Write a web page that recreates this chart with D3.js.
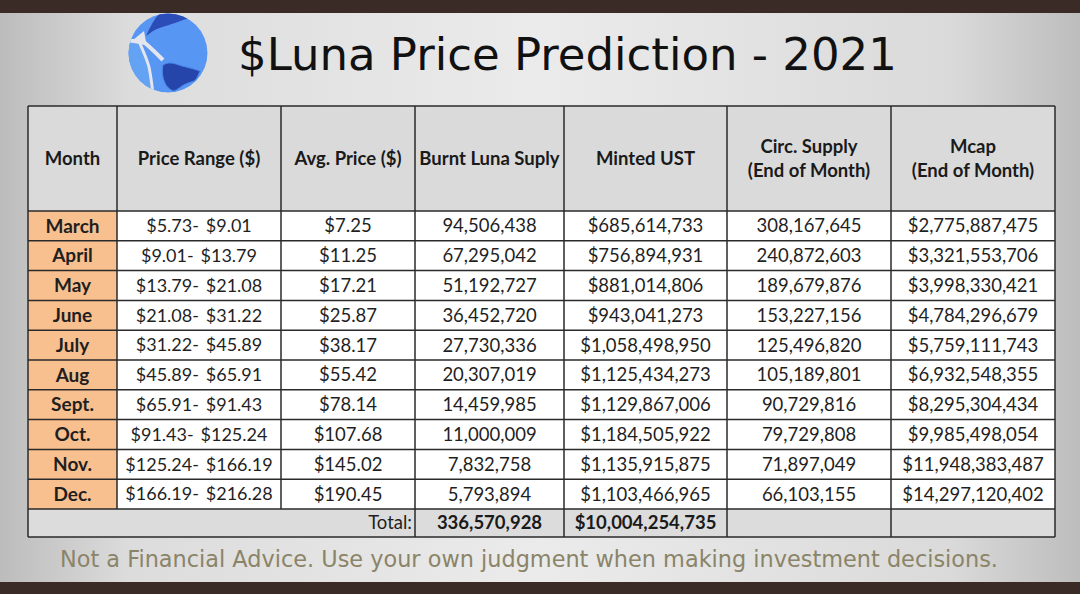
<!DOCTYPE html>
<html>
<head>
<meta charset="utf-8">
<script src="https://cdn.jsdelivr.net/npm/d3@7"></script>
<style>
  html, body { margin: 0; padding: 0; background: #d6d6d6; }
  svg { display: block; }
</style>
</head>
<body>
<div id="chart"></div>
<script>
// table content
const headers = [
    ['Month'],
    ['Price Range ($)'],
    ['Avg. Price ($)'],
    ['Burnt Luna Suply'],
    ['Minted UST'],
    ['Circ. Supply', '(End of Month)'],
    ['Mcap', '(End of Month)']
];
const months = ['March', 'April', 'May', 'June', 'July', 'Aug', 'Sept.', 'Oct.', 'Nov.', 'Dec.'];
const priceLow = ['5.73', '9.01', '13.79', '21.08', '31.22', '45.89', '65.91', '91.43', '125.24', '166.19'];
const priceHigh = ['9.01', '13.79', '21.08', '31.22', '45.89', '65.91', '91.43', '125.24', '166.19', '216.28'];
const avgPrice = ['7.25', '11.25', '17.21', '25.87', '38.17', '55.42', '78.14', '107.68', '145.02', '190.45'];
const burntLuna = [94506438, 67295042, 51192727, 36452720, 27730336, 20307019, 14459985, 11000009, 7832758, 5793894];
const mintedUST = [685614733, 756894931, 881014806, 943041273, 1058498950, 1125434273, 1129867006, 1184505922, 1135915875, 1103466965];
const circSupply = [308167645, 240872603, 189679876, 153227156, 125496820, 105189801, 90729816, 79729808, 71897049, 66103155];
const mcap = [2775887475, 3321553706, 3998330421, 4784296679, 5759111743, 6932548355, 8295304434, 9985498054, 11948383487, 14297120402];
const totalBurnt = 336570928;
const totalMinted = 10004254735;

const title = '$Luna Price Prediction - 2021';
const footnote = 'Not a Financial Advice. Use your own judgment when making investment decisions.';

// layout
const width = 1080;
const height = 594;
const colEdges = [28, 117, 281, 415, 564, 727, 891, 1055];
const tableTop = 106;
const headBottom = 211;
const bodyBottom = 509;
const tableBottom = 537;
const cellFont = 'Lato, "Liberation Sans", sans-serif';

const fmt = d3.format(',');

const svg = d3.select('#chart')
    .append('svg')
    .attr('width', width)
    .attr('height', height);

const defs = svg.append('defs');
const bg = defs.append('linearGradient').attr('id', 'bg').attr('x1', 0).attr('x2', 1).attr('y1', 0).attr('y2', 0);
bg.append('stop').attr('offset', '0%').attr('stop-color', '#bcbcbc');
bg.append('stop').attr('offset', '12%').attr('stop-color', '#dcdcdc');
bg.append('stop').attr('offset', '50%').attr('stop-color', '#ebebeb');
bg.append('stop').attr('offset', '88%').attr('stop-color', '#dadada');
bg.append('stop').attr('offset', '100%').attr('stop-color', '#bdbdbd');

svg.append('rect').attr('width', width).attr('height', height).attr('fill', 'url(#bg)');
svg.append('rect').attr('width', width).attr('height', 13).attr('fill', '#3b2b26');
svg.append('rect').attr('y', 582).attr('width', width).attr('height', 12).attr('fill', '#3b2b26');

// logo
const logo = svg.append('g').attr('transform', 'translate(168,53)');
defs.append('clipPath').attr('id', 'logoClip').append('circle').attr('r', 39.5);
const lg = logo.append('g').attr('clip-path', 'url(#logoClip)');
const gap = '#e4e6ee';
lg.append('circle').attr('r', 40).attr('fill', '#5797f3');
// left crescent
lg.append('path').attr('d', 'M-42,-12 L-28,-11 C-24,0 -18,20 -15,42 L-42,42 Z').attr('fill', '#64a2f4');
// dark top cap
lg.append('path').attr('d', 'M-22,-17 C-18,-26 -14,-34 -8,-40 L20,-40 C22,-36 20,-33 18,-34 C10,-31 4,-29 1,-28 C-6,-26 -12,-24 -15,-22 Z').attr('fill', '#2c4cb8');
// dark lower-right blob
lg.append('path').attr('d', 'M-5,12 C0,9 4,10 8,11 C16,14 24,15 32,18 C30,23 28,27 26,28 C20,30 17,31 14,33 C10,36 7,38 5,38 C1,36 -2,33 -3,30 C-6,24 -6,18 -5,12 Z').attr('fill', '#2645ab').attr('stroke', '#4a84e8').attr('stroke-width', 1);
// white gaps
lg.append('path').attr('d', 'M-42,-13 C-34,-12 -28,-11 -23,-10 C-16,-4 -10,2 -5,7').attr('fill', 'none').attr('stroke', gap).attr('stroke-width', 4);
lg.append('path').attr('d', 'M-29,-12 C-25,-2 -21,6 -19,14 C-17,24 -16,32 -15,42').attr('fill', 'none').attr('stroke', gap).attr('stroke-width', 3);
lg.append('path').attr('d', 'M-35,-13 L-24,-22 L-22,-11 Z').attr('fill', gap);

svg.append('text')
    .attr('x', 238).attr('y', 70)
    .attr('font-family', '"DejaVu Sans", Verdana, sans-serif')
    .attr('font-size', 45)
    .attr('fill', '#111')
    .text(title);

// table scales
const colIndex = d3.range(colEdges.length - 1);
const y = d3.scaleBand().domain(months).range([headBottom, bodyBottom]);
const colMid = i => (colEdges[i] + colEdges[i + 1]) / 2;

const table = svg.append('g');

// header
table.selectAll('rect.head')
    .data(colIndex)
    .join('rect')
    .attr('class', 'head')
    .attr('x', i => colEdges[i]).attr('y', tableTop)
    .attr('width', i => colEdges[i + 1] - colEdges[i])
    .attr('height', headBottom - tableTop)
    .attr('fill', '#dadada');

table.selectAll('text.head')
    .data(colIndex)
    .join('text')
    .attr('class', 'head')
    .attr('x', i => colMid(i))
    .attr('y', i => headers[i].length === 1 ? (tableTop + headBottom) / 2 : (tableTop + headBottom) / 2 - 12)
    .attr('text-anchor', 'middle')
    .attr('font-family', cellFont)
    .attr('font-weight', 'bold')
    .attr('font-size', 18.5)
    .attr('fill', '#1a1a1a')
    .each(function (i) {
        d3.select(this).selectAll('tspan')
            .data(headers[i])
            .join('tspan')
            .attr('x', colMid(i))
            .attr('dy', (d, k) => k === 0 ? '0.35em' : '1.3em')
            .text(d => d);
    });

// body rows
const rows = months.map((m, r) => [
    m,
    '$' + priceLow[r] + '-\u00a0\u2009$' + priceHigh[r],
    '$' + avgPrice[r],
    fmt(burntLuna[r]),
    '$' + fmt(mintedUST[r]),
    fmt(circSupply[r]),
    '$' + fmt(mcap[r])
]);

const rowG = table.selectAll('g.row')
    .data(rows)
    .join('g')
    .attr('class', 'row')
    .attr('transform', (d, r) => `translate(0,${y(months[r])})`);

rowG.selectAll('rect')
    .data(d => d.map((v, i) => ({ v, i })))
    .join('rect')
    .attr('x', d => colEdges[d.i])
    .attr('width', d => colEdges[d.i + 1] - colEdges[d.i])
    .attr('height', y.bandwidth())
    .attr('fill', d => d.i === 0 ? '#f9c08f' : '#ffffff');

rowG.selectAll('text')
    .data(d => d.map((v, i) => ({ v, i })))
    .join('text')
    .attr('x', d => colMid(d.i))
    .attr('y', y.bandwidth() / 2)
    .attr('dy', '0.35em')
    .attr('text-anchor', 'middle')
    .attr('font-family', cellFont)
    .attr('font-weight', d => d.i === 0 ? 'bold' : 'normal')
    .attr('font-size', d => d.i === 0 ? 19 : (d.i === 1 ? 18 : 18.5))
    .attr('fill', '#1f1f1f')
    .text(d => d.v);

// total row
table.append('rect')
    .attr('x', colEdges[0]).attr('y', bodyBottom)
    .attr('width', colEdges[7] - colEdges[0]).attr('height', tableBottom - bodyBottom)
    .attr('fill', '#dcdcdc');
const totalCells = [
    { i: 4, v: fmt(totalBurnt) },
    { i: 5, v: '$' + fmt(totalMinted) }
];
table.append('text')
    .attr('x', colEdges[3] - 3).attr('y', (bodyBottom + tableBottom) / 2).attr('dy', '0.35em')
    .attr('text-anchor', 'end')
    .attr('font-family', cellFont).attr('font-size', 18.5).attr('fill', '#1f1f1f')
    .text('Total:');
table.selectAll('text.total')
    .data(totalCells)
    .join('text')
    .attr('class', 'total')
    .attr('x', d => colMid(d.i - 1))
    .attr('y', (bodyBottom + tableBottom) / 2).attr('dy', '0.35em')
    .attr('text-anchor', 'middle')
    .attr('font-family', cellFont).attr('font-weight', 'bold').attr('font-size', 18.5).attr('fill', '#1a1a1a')
    .text(d => d.v);

// grid lines
const hLines = [tableTop, headBottom].concat(months.slice(1).map(m => y(m)), [bodyBottom, tableBottom]);
table.selectAll('line.h')
    .data(hLines)
    .join('line')
    .attr('class', 'h')
    .attr('x1', colEdges[0]).attr('x2', colEdges[7])
    .attr('y1', d => d).attr('y2', d => d)
    .attr('stroke', '#2a2a2a').attr('stroke-width', 1.5);
table.selectAll('line.v')
    .data(colEdges)
    .join('line')
    .attr('class', 'v')
    .attr('x1', d => d).attr('x2', d => d)
    .attr('y1', tableTop)
    .attr('y2', (d, i) => (i >= 1 && i <= 2) ? bodyBottom : tableBottom)
    .attr('stroke', '#2a2a2a').attr('stroke-width', 1.5);

svg.append('text')
    .attr('x', 529).attr('y', 567)
    .attr('text-anchor', 'middle')
    .attr('font-family', '"DejaVu Sans", Verdana, sans-serif')
    .attr('font-size', 22.4)
    .attr('fill', '#8b8468')
    .text(footnote);
</script>
</body>
</html>
